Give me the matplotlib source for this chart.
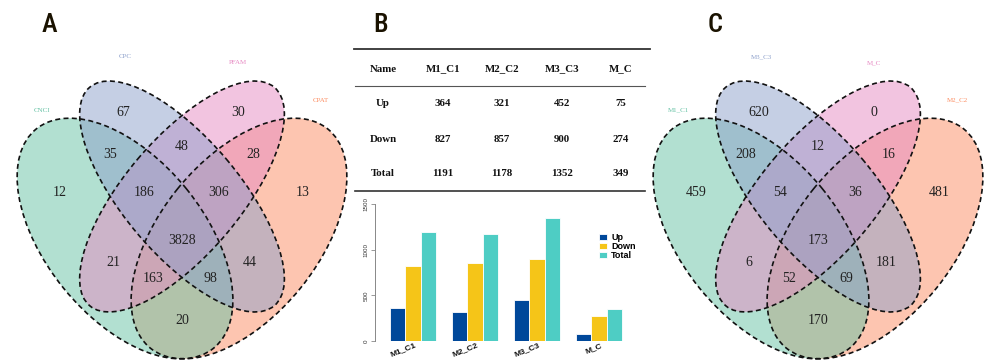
import matplotlib.pyplot as plt
from matplotlib.patches import Ellipse

# ---------------- data ----------------
set_colors = ["#66C2A5", "#8DA0CB", "#E78AC3", "#FC8D62"]   # green, blue, pink, orange

sets_a = ["CNCI", "CPC", "PFAM", "CPAT"]
sets_c = ["M1_C1", "M3_C3", "M_C", "M2_C2"]

# region = set indices it belongs to (0 green, 1 blue, 2 pink, 3 orange)
regions = ["1", "2", "01", "12", "23", "0", "012", "123", "3",
           "0123", "02", "13", "023", "013", "03"]
counts_a = [67, 30, 35, 48, 28, 12, 186, 306, 13, 3828, 21, 44, 163, 98, 20]
counts_c = [620, 0, 208, 12, 16, 459, 54, 36, 481, 173, 6, 181, 52, 69, 170]

groups = ["M1_C1", "M2_C2", "M3_C3", "M_C"]
up = [364, 321, 452, 75]
down = [827, 857, 900, 274]
total = [1191, 1178, 1352, 349]

# ---------------- layout (pixels) ----------------
W, H = 984, 360
SERIF = ["Liberation Serif", "DejaVu Serif"]
SANS = ["Liberation Sans", "DejaVu Sans"]

# label positions relative to venn centre x
label_pos = {"1": (-59, 112), "2": (56, 112), "01": (-72, 155), "12": (0, 146),
             "23": (71, 155), "0": (-122, 193), "012": (-38, 193), "123": (37, 193),
             "3": (121, 193), "0123": (0, 240), "02": (-69, 262), "13": (68, 262),
             "023": (-29, 278), "013": (28, 278), "03": (0, 320)}
# ellipses: (dx, y, width, height, angle)
ellipses = [(-57, 238.5, 282, 158, 51),
            (0, 196.5, 286, 116, 49.8),
            (0, 196.5, 286, 116, -49.8),
            (57, 238.5, 282, 158, -51)]
name_pos = [(-140, 110), (-57, 57), (56, 63), (139, 100)]
fill_order = [3, 0, 2, 1]

fig = plt.figure(figsize=(W / 100, H / 100), dpi=100)
bg = fig.add_axes([0, 0, 1, 1])
bg.set_xlim(0, W)
bg.set_ylim(H, 0)
bg.axis("off")


def venn(cx, names, counts):
    for i in fill_order:
        dx, y, w, h, ang = ellipses[i]
        bg.add_patch(Ellipse((cx + dx, y), w, h, angle=ang, facecolor=set_colors[i],
                             alpha=0.5, edgecolor="none"))
    for i in range(4):
        dx, y, w, h, ang = ellipses[i]
        bg.add_patch(Ellipse((cx + dx, y), w, h, angle=ang, fill=False,
                             edgecolor="#111111", lw=1.2, linestyle=(0, (3, 2))))
    for r, n in zip(regions, counts):
        dx, y = label_pos[r]
        bg.text(cx + dx, y, str(n), ha="center", va="center", fontsize=10,
                family=SERIF, color="#222222")
    for i, nm in enumerate(names):
        dx, y = name_pos[i]
        bg.text(cx + dx, y, nm, ha="center", va="center", fontsize=5,
                family=SERIF, color=set_colors[i])


venn(182, sets_a, counts_a)
venn(818, sets_c, counts_c)

# panel letters
for lab, x in [("A", 49), ("B", 381), ("C", 715)]:
    bg.text(x, 25, lab, ha="center", va="center", fontsize=19,
            family=["Roboto Condensed", "Liberation Sans Narrow", "DejaVu Sans"],
            fontstretch="condensed", weight="medium", color="#1a1200")

# ---------------- table ----------------
col_x = [383, 443, 502, 562, 621]
row_y = [69, 104, 139, 173]
bg.plot([354, 650], [49, 49], color="#333333", lw=1.3)
bg.plot([355, 645], [86, 86], color="#555555", lw=0.8)
bg.plot([355, 645], [191, 191], color="#333333", lw=1.2)
rows = [["Name"] + groups,
        ["Up"] + up,
        ["Down"] + down,
        ["Total"] + total]
for y, row in zip(row_y, rows):
    for x, val in zip(col_x, row):
        bg.text(x, y, str(val), ha="center", va="center", fontsize=7.8,
                family=SERIF, weight="bold", color="#111111")

# ---------------- bar chart ----------------
px_unit = 15.47
ax = fig.add_axes([374.5 / W, (H - 341) / H, 16.5 * px_unit / W, (341 - 204.3) / H])
ax.set_xlim(0, 16.5)
ax.set_ylim(0, 1500)
bar_cols = ["#00489A", "#F5C518", "#4ECDC4"]
series = [up, down, total]
names = ["Up", "Down", "Total"]
for k, (vals, c, nm) in enumerate(zip(series, bar_cols, names)):
    xs = [4 * g + 1.5 + k for g in range(len(groups))]
    ax.bar(xs, vals, width=1.0, color=c, edgecolor="white", linewidth=0.6, label=nm)
for g, nm in enumerate(groups):
    ax.text(4 * g + 2.6, -8, nm, rotation=22, ha="right", va="top",
            rotation_mode="anchor", fontsize=6, weight="bold", family=SANS,
            color="#111111", clip_on=False)
for s in ["top", "right", "bottom"]:
    ax.spines[s].set_visible(False)
ax.spines["left"].set_color("#888888")
ax.spines["left"].set_linewidth(0.7)
ax.set_xticks([])
ax.set_yticks([0, 500, 1000, 1500])
ax.set_yticklabels(["0", "500", "1000", "1500"], rotation=90, va="center",
                   fontsize=4.5, family=SANS, color="#333333")
ax.tick_params(axis="y", length=3, width=0.6, color="#888888", pad=1.5)
ax.patch.set_alpha(0)
ax.legend(loc="upper left", bbox_to_anchor=(0.86, 0.82), frameon=False,
          prop={"family": SANS, "weight": "bold", "size": 6.5},
          handlelength=0.9, handleheight=0.6, labelspacing=0.0,
          handletextpad=0.5, borderpad=0)

fig.savefig("out.png", dpi=100)
